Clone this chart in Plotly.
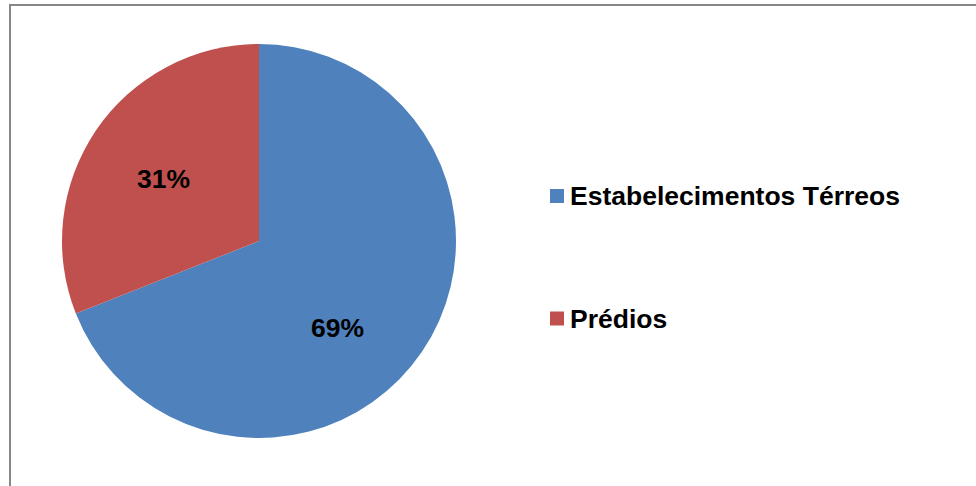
import plotly.graph_objects as go

# Share of buildings by type
categories = ["Estabelecimentos Térreos", "Prédios"]
values = [69, 31]
colors = ["#4F81BD", "#C0504D"]

W, H = 976, 486
cx, cy, R = 259, 241, 197  # pie centre and radius in pixels


def px_x(x):
    return x / W


def px_y(y):
    return 1 - y / H


fig = go.Figure()
fig.add_trace(go.Pie(
    labels=categories,
    values=values,
    sort=False,
    direction="clockwise",
    rotation=0,
    marker=dict(colors=colors, line=dict(width=0)),
    textinfo="none",
    hoverinfo="label+percent",
    showlegend=False,
    domain=dict(x=[px_x(cx - R), px_x(cx + R)], y=[px_y(cy + R), px_y(cy - R)]),
))

font = dict(family="Liberation Sans, Arial", size=26.5, color="#000000", weight="bold")

total = sum(values)
label_pos = [(337, 328), (163, 179)]
annotations = []
for v, (lx, ly) in zip(values, label_pos):
    annotations.append(dict(
        x=px_x(lx), y=px_y(ly), xref="paper", yref="paper",
        text=f"{round(100 * v / total)}%", showarrow=False,
        font=font, xanchor="center", yanchor="middle",
    ))

# Legend drawn as swatches plus labels
legend_y = [196, 318.5]
shapes = []
for name, col, ly in zip(categories, colors, legend_y):
    shapes.append(dict(
        type="rect", xref="paper", yref="paper",
        x0=px_x(550), x1=px_x(564), y0=px_y(ly + 7), y1=px_y(ly - 7),
        fillcolor=col, line=dict(width=0),
    ))
    annotations.append(dict(
        x=px_x(568), y=px_y(ly), xref="paper", yref="paper",
        text=name, showarrow=False,
        font=font, xanchor="left", yanchor="middle",
    ))

# Chart frame
shapes.append(dict(
    type="rect", xref="paper", yref="paper",
    x0=px_x(10), x1=px_x(W + 10), y0=px_y(H + 10), y1=px_y(5),
    line=dict(color="#878787", width=2), fillcolor="rgba(0,0,0,0)",
))

fig.update_layout(
    width=W, height=H,
    margin=dict(l=0, r=0, t=0, b=0),
    paper_bgcolor="white",
    plot_bgcolor="white",
    annotations=annotations,
    shapes=shapes,
)

fig.write_html("out.html")
